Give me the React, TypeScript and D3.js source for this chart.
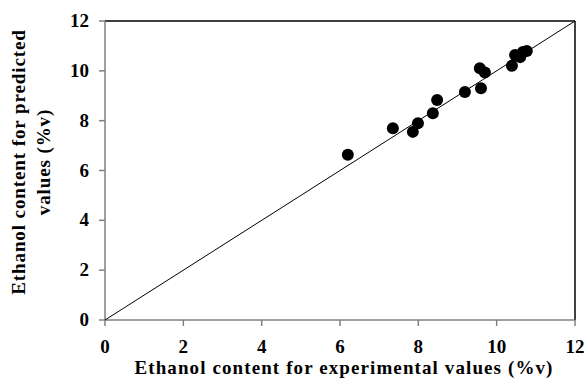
import React from "react";
import { scaleLinear, line } from "d3";

// experimental (x) vs predicted (y) ethanol content, %v
const experimental = [6.2, 7.35, 7.86, 7.99, 8.37, 8.48, 9.19, 9.6, 9.57, 9.7, 10.39, 10.47, 10.6, 10.67, 10.77];
const predicted = [6.63, 7.7, 7.55, 7.9, 8.3, 8.83, 9.15, 9.3, 10.1, 9.93, 10.2, 10.64, 10.55, 10.76, 10.8];
const ticks = [0, 2, 4, 6, 8, 10, 12];
const identity = [0, 12];

export default function App() {
    const width = 587;
    const height = 392;
    const x = scaleLinear().domain([0, 12]).range([105, 575]);
    const y = scaleLinear().domain([0, 12]).range([320, 21]);
    const font = "Liberation Serif, DejaVu Serif, serif";

    const diag = line<number>()
        .x(d => x(d))
        .y(d => y(d));

    return (
        <svg width={width} height={height} style={{ position: "absolute", left: 0, top: 0, background: "#fff" }}>
            {/* frame */}
            <line x1={x(0)} y1={y(12)} x2={x(12)} y2={y(12)} stroke="#000" strokeWidth={1.5} />
            <line x1={x(12)} y1={y(12)} x2={x(12)} y2={y(0)} stroke="#000" strokeWidth={1.5} />
            <line x1={x(0)} y1={y(0)} x2={x(0)} y2={y(12)} stroke="#808080" strokeWidth={1.5} />
            <line x1={x(0)} y1={y(0)} x2={x(12)} y2={y(0)} stroke="#808080" strokeWidth={1.5} />

            {/* ticks */}
            {ticks.map(t => (
                <g key={"t" + t}>
                    <line x1={x(t)} x2={x(t)} y1={y(0)} y2={y(0) + 6} stroke="#808080" strokeWidth={1.5} />
                    <line x1={x(0) - 6} x2={x(0)} y1={y(t)} y2={y(t)} stroke="#808080" strokeWidth={1.5} />
                    <text x={x(t)} y={353} textAnchor="middle" fontFamily={font} fontWeight="bold" fontSize={19}>
                        {t}
                    </text>
                    <text x={89} y={y(t) + 6} textAnchor="end" fontFamily={font} fontWeight="bold" fontSize={19}>
                        {t}
                    </text>
                </g>
            ))}

            {/* 1:1 line */}
            <path d={diag(identity) || ""} fill="none" stroke="#000" strokeWidth={1} />

            {/* points */}
            {experimental.map((v, i) => (
                <circle key={i} cx={x(v)} cy={y(predicted[i])} r={6} fill="#000" />
            ))}

            {/* axis titles */}
            <text x={344} y={374} textAnchor="middle" fontFamily={font} fontWeight="bold" fontSize={19}
                letterSpacing={1.1}>
                Ethanol content for experimental values (%v)
            </text>
            <g transform="translate(25, 162) rotate(-90)">
                <text x={0} y={0} textAnchor="middle" fontFamily={font} fontWeight="bold" fontSize={19}
                    letterSpacing={0.9}>
                    Ethanol content for predicted
                </text>
                <text x={0} y={25} textAnchor="middle" fontFamily={font} fontWeight="bold" fontSize={19}
                    letterSpacing={0.9}>
                    values (%v)
                </text>
            </g>
        </svg>
    );
}
